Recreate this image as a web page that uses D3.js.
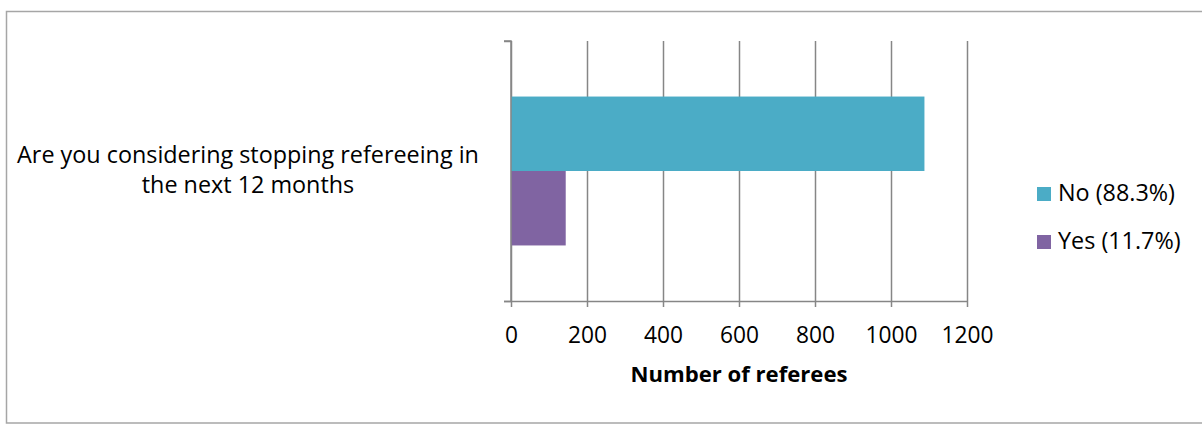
<!DOCTYPE html>
<html>
<head>
<meta charset="utf-8">
<script src="https://cdn.jsdelivr.net/npm/d3@7"></script>
<style>
  html, body { margin: 0; padding: 0; background: #fff; }
  svg { display: block; }
  text { font-family: "Open Sans", Lato, sans-serif; fill: #000; }
</style>
</head>
<body>
<svg id="chart" width="1202" height="424"></svg>
<script>
// ---- data ----
const categories = ["Are you considering stopping refereeing in the next 12 months"];
const categoryLines = [["Are you considering stopping refereeing in", "the next 12 months"]];
const seriesNames = ["No (88.3%)", "Yes (11.7%)"];
const noValues = [1088];
const yesValues = [144];
const xTicks = [0, 200, 400, 600, 800, 1000, 1200];
const xTitle = "Number of referees";
const seriesColors = ["#4BACC6", "#8064A2"];

const seriesValues = [noValues, yesValues];

const svg = d3.select("#chart");

// scale a text's font size so its width matches a target width
function fitWidth(node, target) {
  const fs = parseFloat(node.getAttribute("font-size"));
  const w = node.getComputedTextLength();
  if (w > 0) node.setAttribute("font-size", (fs * target / w).toFixed(2));
}

// frame
svg.append("rect")
  .attr("x", 6.5).attr("y", 11.5)
  .attr("width", 1210).attr("height", 411.5)
  .attr("fill", "none").attr("stroke", "#a6a6a6").attr("stroke-width", 1.5);

const plot = { left: 511, right: 967, top: 41, bottom: 301 };

const x = d3.scaleLinear().domain([0, 1200]).range([plot.left, plot.right]);
const y = d3.scaleBand().domain(categories).range([plot.top, plot.bottom])
  .paddingInner(0).paddingOuter(0.373);
const ySeries = d3.scaleBand().domain(seriesNames).range([0, y.bandwidth()]).padding(0);

const gridColor = "#868686";

// gridlines
const grid = svg.append("g")
  .attr("transform", `translate(0,${plot.bottom})`)
  .call(d3.axisBottom(x).tickValues(xTicks).tickSize(-(plot.bottom - plot.top)).tickFormat(""));
grid.select(".domain").remove();
grid.selectAll("line").attr("stroke", gridColor).attr("stroke-width", 1.5);

// bars
categories.forEach((cat, ci) => {
  seriesNames.forEach((s, si) => {
    svg.append("rect")
      .attr("x", x(0))
      .attr("y", y(cat) + ySeries(s))
      .attr("width", x(seriesValues[si][ci]) - x(0))
      .attr("height", ySeries.bandwidth())
      .attr("fill", seriesColors[si]);
  });
});

// x axis
const xAxis = svg.append("g")
  .attr("transform", `translate(0,${plot.bottom})`)
  .call(d3.axisBottom(x).tickValues(xTicks).tickSize(6).tickFormat(d3.format("d")));
xAxis.select(".domain").attr("stroke", gridColor).attr("stroke-width", 1.5)
  .attr("d", `M${plot.left - 7},0.5H${plot.right}`);
xAxis.selectAll("line").attr("stroke", gridColor).attr("stroke-width", 1.5);
xAxis.selectAll("text")
  .attr("font-size", 22).attr("font-family", "'Open Sans'").attr("fill", "#000")
  .attr("dy", null).attr("y", 42);
{
  const ref = xAxis.selectAll("text").filter(d => d === 1000).node();
  const fs0 = 22, w = ref.getComputedTextLength();
  const fs = fs0 * 52 / w;
  xAxis.selectAll("text").attr("font-size", fs.toFixed(2));
}

// y axis
const yAxisScale = d3.scaleLinear().domain([0, 1]).range([plot.bottom, plot.top]);
const yAxis = svg.append("g")
  .attr("transform", `translate(${plot.left},0)`)
  .call(d3.axisLeft(yAxisScale).tickValues([0, 1]).tickSize(7).tickFormat(""));
yAxis.select(".domain").attr("stroke", gridColor).attr("stroke-width", 1.5)
  .attr("d", `M-7,${plot.top}H0V${plot.bottom}`);
yAxis.selectAll("line").attr("stroke", gridColor).attr("stroke-width", 1.5);

// category label
categories.forEach((cat, ci) => {
  const t = svg.append("text")
    .attr("text-anchor", "middle")
    .attr("font-size", 22);
  const first = t.append("tspan").attr("x", 248).attr("y", 163).text(categoryLines[ci][0]);
  const w = first.node().getComputedTextLength();
  t.attr("font-size", (22 * 462 / w).toFixed(2));
  categoryLines[ci].slice(1).forEach((line, li) => {
    t.append("tspan").attr("x", 248).attr("y", 163 + (li + 1) * 30).text(line);
  });
});

// x title
const title = svg.append("text")
  .attr("x", (plot.left + plot.right) / 2)
  .attr("y", 382)
  .attr("text-anchor", "middle")
  .attr("font-size", 22)
  .attr("font-weight", "bold")
  .text(xTitle);
fitWidth(title.node(), 217);

// legend
const legend = svg.append("g");
const legendTexts = [];
seriesNames.forEach((s, i) => {
  legend.append("rect")
    .attr("x", 1037).attr("y", 187 + i * 48)
    .attr("width", 14).attr("height", 14)
    .attr("fill", seriesColors[i]);
  legendTexts.push(legend.append("text")
    .attr("x", 1058).attr("y", 201 + i * 48)
    .attr("font-size", 22)
    .text(s));
});
{
  const w = legendTexts[0].node().getComputedTextLength();
  const fs = (22 * 117 / w).toFixed(2);
  legendTexts.forEach(t => t.attr("font-size", fs));
}
</script>
</body>
</html>
